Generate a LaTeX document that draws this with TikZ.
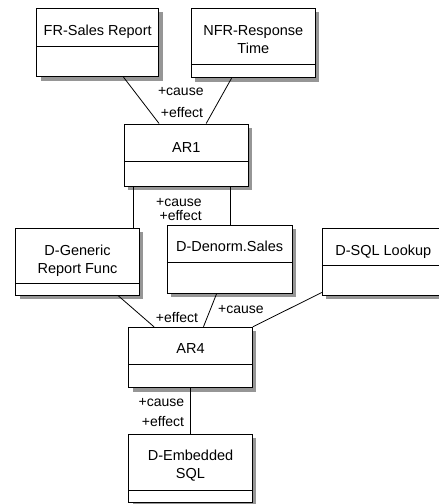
\documentclass[tikz,border=0pt]{standalone}
\usepackage{fontspec}
\setmainfont{Liberation Sans}
\usetikzlibrary{calc}
\definecolor{shadowgray}{RGB}{150,150,150}
\newcommand{\umlbox}[6]{%
  \path[fill=shadowgray] ({#2+4},{#3+4}) rectangle ({#4+4},{#5+4});
  \node[cls, minimum width={(#4-#2)*1pt}, minimum height={(#5-#3)*1pt}] (#1) at ({(#2+#4)/2},{(#3+#5)/2}) {};
  \draw[divider] (#1.west |- 0,#6) -- (#1.east |- 0,#6);
}
\begin{document}
\begin{tikzpicture}[x=1pt,y=-1pt,
  cls/.style={draw, line width=1pt, fill=white, rectangle, inner sep=0pt},
  divider/.style={line width=1pt},
  conn/.style={line width=0.8pt},
  boxtext/.style={font=\fontsize{14.5}{18}\selectfont, inner sep=0pt, align=center},
  rolelbl/.style={font=\fontsize{14}{16}\selectfont, inner sep=0pt, anchor=base},
]
\clip (0,0) rectangle (439,504);
\fill[white] (0,0) rectangle (439,504);

\umlbox{fr}{36.7}{8.3}{158.7}{76.7}{46}
\umlbox{nfr}{191.3}{8.3}{315.3}{77.7}{64}
\umlbox{ar1}{124.3}{124}{248.3}{186}{161.7}
\umlbox{dg}{15.7}{228}{139.3}{295}{283.3}
\umlbox{dd}{167.3}{225}{292}{293.3}{262.7}
\umlbox{sql}{322.3}{228}{445.3}{295}{265.7}
\umlbox{ar4}{128.7}{327.3}{252.3}{387.7}{364.7}
\umlbox{emb}{128.7}{434}{252.3}{502.7}{490.7}

\node[boxtext, anchor=base] (frt) at (fr.north |- 0,35) {FR-Sales Report};
\node[boxtext, anchor=north] (nfrt) at (nfr.north |- 0,25) {NFR-Response\\Time};
\node[boxtext, anchor=base] (ar1t) at (ar1.north |- 0,152) {AR1};
\node[boxtext, anchor=north] (dgt) at (dg.north |- 0,245) {D-Generic\\Report Func};
\node[boxtext, anchor=base] (ddt) at (dd.north |- 0,251.7) {D-Denorm.Sales};
\node[boxtext, anchor=base] (sqlt) at (383.3,255) {D-SQL Lookup};
\node[boxtext, anchor=base] (ar4t) at (ar4.north |- 0,353.3) {AR4};
\node[boxtext, anchor=north] (embt) at (emb.north |- 0,450) {D-Embedded\\SQL};

\draw[conn] ($(fr.south west)!0.71!(fr.south east)$) -- ($(ar1.north west)!0.282!(ar1.north east)$);
\draw[conn] ($(nfr.south west)!0.326!(nfr.south east)$) -- ($(ar1.north west)!0.659!(ar1.north east)$);
\coordinate (a1l) at ($(ar1.south west)!0.073!(ar1.south east)$);
\coordinate (a1r) at ($(ar1.south west)!0.852!(ar1.south east)$);
\draw[conn] (a1l) -- (a1l |- dg.north);
\draw[conn] (a1r) -- (a1r |- dd.north);
\draw[conn] ($(dg.south west)!0.825!(dg.south east)$) -- ($(ar4.north west)!0.207!(ar4.north east)$);
\draw[conn] ($(dd.south west)!0.396!(dd.south east)$) -- ($(ar4.north west)!0.604!(ar4.north east)$);
\draw[conn] ($(sql.south west)+(0,-3)$) -- (ar4.north east);
\draw[conn] (ar4.south) -- (emb.north);

\node[rolelbl] (c1) at (180.8,95) {+cause};
\node[rolelbl] (e1) at (182,117) {+effect};
\node[rolelbl] (c2) at (179,206) {+cause};
\node[rolelbl] (e2) at (180.7,220) {+effect};
\node[rolelbl] (e3) at (177,322.7) {+effect};
\node[rolelbl] (c3) at (241,313) {+cause};
\node[rolelbl] (c4) at (161.5,406.7) {+cause};
\node[rolelbl] (e4) at (163,426.7) {+effect};
\end{tikzpicture}
\end{document}
